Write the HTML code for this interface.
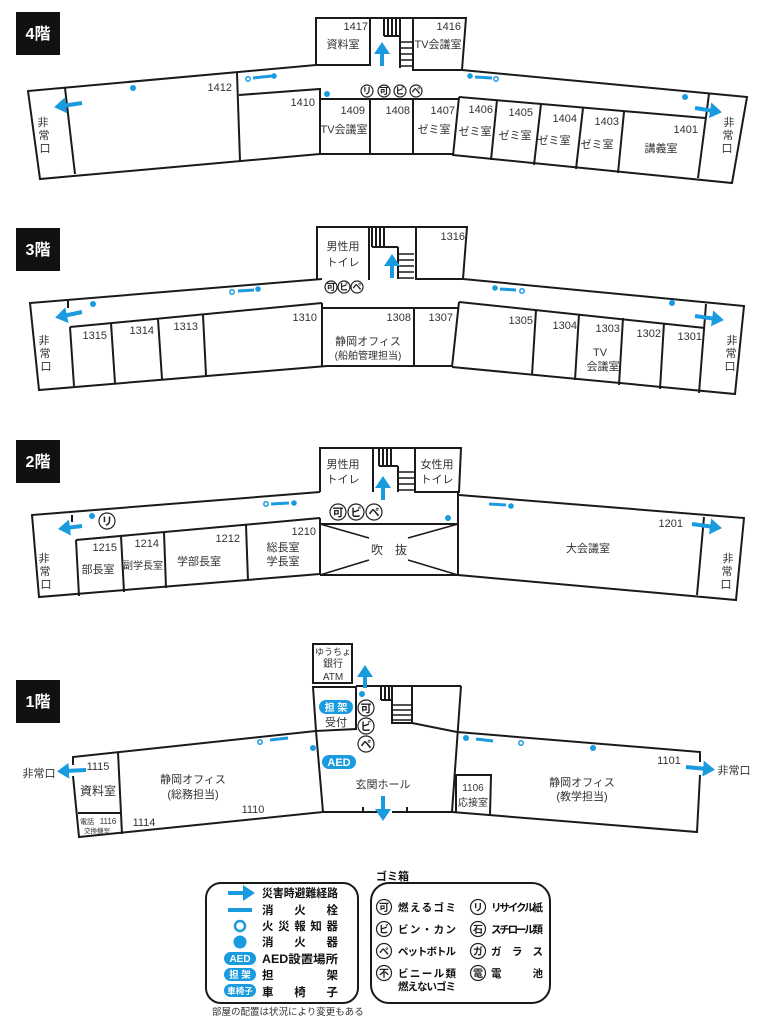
<!DOCTYPE html>
<html><head><meta charset="utf-8"><style>
html,body{margin:0;padding:0;background:#fff}
svg{display:block}
text{font-family:"Liberation Sans","Noto Sans CJK JP",sans-serif;fill:#333}
.w{fill:none;stroke:#1a1a1a;stroke-width:2}
.t{font-size:11px}
.n{font-size:11px}
.b{stroke:#1a9be0;stroke-width:4;fill:none}
.h{stroke:#1a9be0;stroke-width:3;fill:none}
.e{fill:#1a9be0}
.a{fill:#fff;stroke:#1a9be0;stroke-width:1.5}
.c{fill:#fff;stroke:#222;stroke-width:1.2}
.ct{font-size:9px;fill:#222;text-anchor:middle;font-weight:bold}
.lg{font-size:11.5px;font-weight:bold;fill:#111}
</style></head><body>
<svg width="761" height="1024" viewBox="0 0 761 1024" xmlns="http://www.w3.org/2000/svg">
<defs>
<marker id="ah" markerWidth="4" markerHeight="4" refX="1" refY="2" orient="auto" markerUnits="strokeWidth">
<path d="M0,0 L3,2 L0,4 Z" fill="#1a9be0"/></marker>
</defs>

<rect x="16" y="12" width="44" height="43" fill="#111"/><text x="38" y="39" text-anchor="middle" style="fill:#fff;font-size:16px;font-weight:bold">4階</text>
<rect x="16" y="228" width="44" height="43" fill="#111"/><text x="38" y="255" text-anchor="middle" style="fill:#fff;font-size:16px;font-weight:bold">3階</text>
<rect x="16" y="440" width="44" height="43" fill="#111"/><text x="38" y="467" text-anchor="middle" style="fill:#fff;font-size:16px;font-weight:bold">2階</text>
<rect x="16" y="680" width="44" height="43" fill="#111"/><text x="38" y="707" text-anchor="middle" style="fill:#fff;font-size:16px;font-weight:bold">1階</text>

<!-- ===== FLOOR 4 ===== -->
<g class="w">
<path d="M316,65 V18 H370 V65 Z"/>
<path d="M370,18 H413"/>
<path d="M384,18 V36 M388,18 V36 M392,18 V36 M396,18 V36 M384,36 H400 M400,18 V68"/>
<path d="M400,42 H413 M400,48 H413 M400,54 H413 M400,60 H413 M400,66 H413" stroke-width="1.5"/>
<path d="M413,70 V18 H466 L462,70 Z"/>
<path d="M316,65 L28,91 L40,179 L320,154"/>
<path d="M65,88 L75,174"/>
<path d="M237,73 L240,161"/>
<path d="M239,95 L320,89 V154"/>
<path d="M320,99 H458 M370,99 V154 M413,99 V154 M320,154 H453"/>
<path d="M462,70 L747,97 L732,183 L453,155"/>
<path d="M459,97 L705,118 M459,97 L453,156 M497,100 L491,160 M541,104 L534,165 M583,108 L576,169 M624,112 L618,173 M709,94 L698,178"/>
</g>
<g class="n">
<text x="368" y="30" text-anchor="end">1417</text><text x="343" y="48" text-anchor="middle">資料室</text>
<text x="461" y="30" text-anchor="end">1416</text><text x="438" y="48" text-anchor="middle">TV会議室</text>
<text x="232" y="91" text-anchor="end">1412</text>
<text x="315" y="106" text-anchor="end">1410</text>
<text x="365" y="114" text-anchor="end">1409</text><text x="344" y="133" text-anchor="middle">TV会議室</text>
<text x="410" y="114" text-anchor="end">1408</text>
<text x="455" y="114" text-anchor="end">1407</text><text x="434" y="133" text-anchor="middle">ゼミ室</text>
<text x="493" y="113" text-anchor="end">1406</text><text x="475" y="135" text-anchor="middle">ゼミ室</text>
<text x="533" y="116" text-anchor="end">1405</text><text x="515" y="139" text-anchor="middle">ゼミ室</text>
<text x="577" y="122" text-anchor="end">1404</text><text x="554" y="144" text-anchor="middle">ゼミ室</text>
<text x="619" y="125" text-anchor="end">1403</text><text x="597" y="148" text-anchor="middle">ゼミ室</text>
<text x="698" y="133" text-anchor="end">1401</text><text x="661" y="152" text-anchor="middle">講義室</text>
<text x="43" y="126" text-anchor="middle">非</text><text x="44" y="139" text-anchor="middle">常</text><text x="45" y="152" text-anchor="middle">口</text>
<text x="729" y="126" text-anchor="middle">非</text><text x="728" y="139" text-anchor="middle">常</text><text x="727" y="152" text-anchor="middle">口</text>
</g>
<path class="b" d="M82,103 L62,106" marker-end="url(#ah)"/>
<path class="b" d="M695,108 L714,111" marker-end="url(#ah)"/>
<path class="b" d="M382,66 V50" marker-end="url(#ah)"/>
<circle class="e" cx="133" cy="88" r="3"/>
<circle class="a" cx="248" cy="79" r="2.2"/><path class="h" d="M253,78 L272,76"/><circle class="e" cx="274" cy="76" r="2.8"/>
<circle class="e" cx="327" cy="94" r="3"/>
<circle class="e" cx="470" cy="76" r="2.8"/><path class="h" d="M475,77 L492,78"/><circle class="a" cx="496" cy="79" r="2.2"/>
<circle class="e" cx="685" cy="97" r="3"/>
<circle class="c" cx="367" cy="91" r="6"/><text class="ct" x="367" y="94">リ</text>
<circle class="c" cx="384" cy="91" r="6"/><text class="ct" x="384" y="94">可</text>
<circle class="c" cx="400" cy="91" r="6"/><text class="ct" x="400" y="94">ビ</text>
<circle class="c" cx="416" cy="91" r="6"/><text class="ct" x="416" y="94">ペ</text>

<!-- ===== FLOOR 3 ===== -->
<g class="w">
<path d="M317,280 V227 H369 V280"/>
<path d="M369,227 H416 M372,227 V247 M376,227 V247 M380,227 V247 M384,227 V247 M372,247 H398 M398,247 V279"/>
<path d="M398,254 H414 M398,260 H414 M398,266 H414 M398,272 H414 M398,278 H414" stroke-width="1.5"/>
<path d="M416,279 V227 H467 L463,279 Z"/>
<path d="M322,279 L30,303 L39,390 L327,366"/>
<path d="M68,301 V308 M70,327 L74,386"/>
<path d="M70,327 L322,303 M111,323 L115,383 M158,319 L162,379 M203,315 L206,375"/>
<path d="M322,303 V366 M322,308 H459 M414,308 V366 M327,366 H452"/>
<path d="M463,279 L744,306 L735,394 L452,367"/>
<path d="M459,302 L705,328 M459,302 L452,367 M536,310 L532,375 M579,314 L575,380 M623,318 L619,385 M664,323 L660,389 M706,304 L699,393"/>
</g>
<g class="n">
<text x="343" y="250" text-anchor="middle">男性用</text><text x="343" y="266" text-anchor="middle">トイレ</text>
<text x="465" y="240" text-anchor="end">1316</text>
<text x="107" y="339" text-anchor="end">1315</text>
<text x="154" y="334" text-anchor="end">1314</text>
<text x="198" y="330" text-anchor="end">1313</text>
<text x="317" y="321" text-anchor="end">1310</text>
<text x="411" y="321" text-anchor="end">1308</text>
<text x="453" y="321" text-anchor="end">1307</text>
<text x="368" y="345" text-anchor="middle">静岡オフィス</text>
<text x="368" y="359" text-anchor="middle" style="font-size:10px">(船舶管理担当)</text>
<text x="533" y="324" text-anchor="end">1305</text>
<text x="577" y="329" text-anchor="end">1304</text>
<text x="620" y="332" text-anchor="end">1303</text>
<text x="661" y="337" text-anchor="end">1302</text>
<text x="702" y="340" text-anchor="end">1301</text>
<text x="600" y="356" text-anchor="middle">TV</text><text x="603" y="370" text-anchor="middle">会議室</text>
<text x="44" y="344" text-anchor="middle">非</text><text x="45" y="357" text-anchor="middle">常</text><text x="46" y="370" text-anchor="middle">口</text>
<text x="732" y="344" text-anchor="middle">非</text><text x="731" y="357" text-anchor="middle">常</text><text x="730" y="370" text-anchor="middle">口</text>
</g>
<path class="b" d="M82,312 L63,316" marker-end="url(#ah)"/>
<path class="b" d="M695,316 L716,319" marker-end="url(#ah)"/>
<path class="b" d="M392,278 V262" marker-end="url(#ah)"/>
<circle class="e" cx="93" cy="304" r="3"/>
<circle class="a" cx="232" cy="292" r="2.2"/><path class="h" d="M238,291 L254,290"/><circle class="e" cx="258" cy="289" r="2.8"/>
<circle class="e" cx="495" cy="288" r="2.8"/><path class="h" d="M500,289 L516,290"/><circle class="a" cx="522" cy="291" r="2.2"/>
<circle class="e" cx="672" cy="303" r="3"/>
<circle class="c" cx="331" cy="287" r="6"/><text class="ct" x="331" y="290">可</text>
<circle class="c" cx="344" cy="287" r="6"/><text class="ct" x="344" y="290">ビ</text>
<circle class="c" cx="357" cy="287" r="6"/><text class="ct" x="357" y="290">ペ</text>

<!-- ===== FLOOR 2 ===== -->
<g class="w">
<path d="M320,492 V448 H373 V492"/>
<path d="M373,448 H415 M379,448 V466 M383,448 V466 M387,448 V466 M391,448 V466 M379,466 H398 M398,466 V492"/>
<path d="M398,472 H414 M398,478 H414 M398,484 H414 M398,490 H414" stroke-width="1.5"/>
<path d="M415,492 V448 H461 L459,492 Z"/>
<path d="M320,492 L32,515 L39,597 L320,574"/>
<path d="M72,515 V522 M76,540 L79,596"/>
<path d="M76,540 L320,518 M121,536 L124,592 M164,532 L166,588 M246,525 L248,581"/>
<path d="M320,518 V575 M320,524 H458 M458,492 V575 M320,575 H458"/>
<path d="M320,524 L369,538 M458,524 L408,538 M320,575 L369,560 M458,575 L408,560" stroke-width="1.5"/>
<path d="M459,495 L744,518 L736,600 L458,575"/>
<path d="M704,517 L697,595"/>
</g>
<g class="n">
<text x="343" y="468" text-anchor="middle">男性用</text><text x="343" y="483" text-anchor="middle">トイレ</text>
<text x="437" y="468" text-anchor="middle">女性用</text><text x="437" y="483" text-anchor="middle">トイレ</text>
<text x="117" y="551" text-anchor="end">1215</text>
<text x="159" y="547" text-anchor="end">1214</text>
<text x="240" y="542" text-anchor="end">1212</text>
<text x="316" y="535" text-anchor="end">1210</text>
<text x="98" y="573" text-anchor="middle">部長室</text>
<text x="143" y="569" text-anchor="middle" style="font-size:10px">副学長室</text>
<text x="199" y="565" text-anchor="middle">学部長室</text>
<text x="283" y="551" text-anchor="middle">総長室</text><text x="283" y="565" text-anchor="middle">学長室</text>
<text x="389" y="554" text-anchor="middle" style="font-size:12px">吹　抜</text>
<text x="683" y="527" text-anchor="end">1201</text>
<text x="588" y="552" text-anchor="middle">大会議室</text>
<text x="44" y="562" text-anchor="middle">非</text><text x="45" y="575" text-anchor="middle">常</text><text x="46" y="588" text-anchor="middle">口</text>
<text x="728" y="562" text-anchor="middle">非</text><text x="727" y="575" text-anchor="middle">常</text><text x="726" y="588" text-anchor="middle">口</text>
</g>
<path class="b" d="M82,526 L66,528" marker-end="url(#ah)"/>
<path class="b" d="M692,524 L714,527" marker-end="url(#ah)"/>
<path class="b" d="M383,500 V484" marker-end="url(#ah)"/>
<circle class="e" cx="92" cy="516" r="3"/>
<circle class="a" cx="266" cy="504" r="2.2"/><path class="h" d="M271,504 L289,503"/><circle class="e" cx="294" cy="503" r="2.8"/>
<circle class="e" cx="448" cy="518" r="3"/>
<path class="h" d="M489,504 L506,505"/><circle class="e" cx="511" cy="506" r="2.8"/>
<circle class="c" cx="107" cy="521" r="8"/><text class="ct" x="107" y="525" style="font-size:11px">リ</text>
<circle class="c" cx="338" cy="512" r="8"/><text class="ct" x="338" y="516" style="font-size:11px">可</text>
<circle class="c" cx="356" cy="512" r="8"/><text class="ct" x="356" y="516" style="font-size:11px">ビ</text>
<circle class="c" cx="374" cy="512" r="8"/><text class="ct" x="374" y="516" style="font-size:11px">ペ</text>

<!-- ===== FLOOR 1 ===== -->
<g class="w">
<rect x="313" y="644" width="39" height="39"/>
<path d="M316,731 L313,687 H356 V729 Z"/>
<path d="M356,686 H461 M381,686 V700 M385,686 V700 M389,686 V700 M381,700 H392 M392,686 V723 H412 V686"/>
<path d="M392,705 H412 M392,710 H412 M392,715 H412 M392,720 H412" stroke-width="1.5"/>
<path d="M412,723 L457,732"/>
<path d="M461,686 L452,812"/>
<path d="M316,731 L73,757 V765 M73,776 L79,837 L323,812 L316,731"/>
<path d="M118,752 L122,834 M78,813 H121"/>
<path d="M323,812 H378 M392,812 H452 M363,812 V807 M407,812 V807"/>
<path d="M457,732 L700,752 V762 M700,775 L697,832 L452,812"/>
<path d="M456,812 V775 H491 L490,815"/>
</g>
<g class="n">
<text x="333" y="655" text-anchor="middle" style="font-size:9px">ゆうちょ</text>
<text x="333" y="667" text-anchor="middle" style="font-size:10px">銀行</text>
<text x="333" y="680" text-anchor="middle" style="font-size:10px">ATM</text>
<text x="336" y="726" text-anchor="middle">受付</text>
<text x="98" y="770" text-anchor="middle">1115</text>
<text x="98" y="795" text-anchor="middle" style="font-size:12px">資料室</text>
<text x="87" y="824" text-anchor="middle" style="font-size:7px">電話</text>
<text x="108" y="824" text-anchor="middle" style="font-size:8px">1116</text>
<text x="97" y="833" text-anchor="middle" style="font-size:6.5px">交換機室</text>
<text x="144" y="826" text-anchor="middle">1114</text>
<text x="253" y="813" text-anchor="middle">1110</text>
<text x="193" y="783" text-anchor="middle">静岡オフィス</text>
<text x="193" y="798" text-anchor="middle">(総務担当)</text>
<text x="383" y="788" text-anchor="middle">玄関ホール</text>
<text x="473" y="791" text-anchor="middle" style="font-size:10px">1106</text>
<text x="473" y="806" text-anchor="middle" style="font-size:10px">応接室</text>
<text x="669" y="764" text-anchor="middle">1101</text>
<text x="582" y="786" text-anchor="middle">静岡オフィス</text>
<text x="582" y="800" text-anchor="middle">(教学担当)</text>
<text x="39" y="777" text-anchor="middle">非常口</text>
<text x="734" y="774" text-anchor="middle">非常口</text>
</g>
<path class="b" d="M86,770 L65,771" marker-end="url(#ah)"/>
<path class="b" d="M686,767 L707,769" marker-end="url(#ah)"/>
<path class="b" d="M365,688 V673" marker-end="url(#ah)"/>
<path class="b" d="M383,796 V813" marker-end="url(#ah)"/>
<circle class="e" cx="362" cy="694" r="3"/>
<circle class="e" cx="313" cy="748" r="3"/>
<circle class="a" cx="260" cy="742" r="2.2"/><path class="h" d="M270,740 L288,738"/>
<circle class="e" cx="466" cy="738" r="3"/><path class="h" d="M476,739 L493,741"/><circle class="a" cx="521" cy="743" r="2.2"/>
<circle class="e" cx="593" cy="748" r="3"/>
<rect x="319" y="700" width="34" height="14" rx="7" fill="#1a9be0"/><text x="336" y="711" text-anchor="middle" style="fill:#fff;font-size:10px;font-weight:bold">担 架</text>
<rect x="322" y="755" width="34" height="14" rx="7" fill="#1a9be0"/><text x="339" y="766" text-anchor="middle" style="fill:#fff;font-size:11px;font-weight:bold">AED</text>
<circle class="c" cx="366" cy="708" r="8"/><text class="ct" x="366" y="712" style="font-size:11px">可</text>
<circle class="c" cx="366" cy="726" r="8"/><text class="ct" x="366" y="730" style="font-size:11px">ビ</text>
<circle class="c" cx="366" cy="744" r="8"/><text class="ct" x="366" y="748" style="font-size:11px">ペ</text>

<!-- ===== LEGEND ===== -->
<rect x="206" y="883" width="152" height="120" rx="15" fill="none" stroke="#1a1a1a" stroke-width="2"/>
<path class="b" d="M228,893 L247,893" marker-end="url(#ah)"/>
<path d="M228,910 L252,910" stroke="#1a9be0" stroke-width="4"/>
<circle cx="240" cy="926" r="5" fill="#fff" stroke="#1a9be0" stroke-width="2.5"/>
<circle cx="240" cy="942" r="6.5" fill="#1a9be0"/>
<rect x="224" y="952" width="32" height="13" rx="6.5" fill="#1a9be0"/><text x="240" y="962" text-anchor="middle" style="fill:#fff;font-size:10px;font-weight:bold">AED</text>
<rect x="224" y="968" width="32" height="13" rx="6.5" fill="#1a9be0"/><text x="240" y="978" text-anchor="middle" style="fill:#fff;font-size:9.5px;font-weight:bold">担 架</text>
<rect x="224" y="984" width="32" height="13" rx="6.5" fill="#1a9be0"/><text x="240" y="994" text-anchor="middle" style="fill:#fff;font-size:8.5px;font-weight:bold">車椅子</text>
<text class="lg" x="262" y="897" textLength="76" lengthAdjust="spacingAndGlyphs">災害時避難経路</text>
<text class="lg" x="262" y="914" textLength="76" lengthAdjust="spacing">消火栓</text>
<text class="lg" x="262" y="930" textLength="76" lengthAdjust="spacing">火災報知器</text>
<text class="lg" x="262" y="946" textLength="76" lengthAdjust="spacing">消火器</text>
<text class="lg" x="262" y="963" textLength="76" lengthAdjust="spacingAndGlyphs">AED設置場所</text>
<text class="lg" x="262" y="979" textLength="76" lengthAdjust="spacing">担架</text>
<text class="lg" x="262" y="996" textLength="76" lengthAdjust="spacing">車椅子</text>
<text x="212" y="1015" style="font-size:9.5px">部屋の配置は状況により変更もある</text>

<text x="376" y="880" style="font-size:11px;font-weight:bold;fill:#111">ゴミ箱</text>
<rect x="371" y="883" width="179" height="120" rx="18" fill="none" stroke="#1a1a1a" stroke-width="2"/>
<g style="font-size:10.5px;font-weight:bold">
<circle class="c" cx="384" cy="907" r="7.5"/><text class="ct" x="384" y="911" style="font-size:10px">可</text>
<circle class="c" cx="384" cy="929" r="7.5"/><text class="ct" x="384" y="933" style="font-size:10px">ビ</text>
<circle class="c" cx="384" cy="951" r="7.5"/><text class="ct" x="384" y="955" style="font-size:10px">ペ</text>
<circle class="c" cx="384" cy="973" r="7.5"/><text class="ct" x="384" y="977" style="font-size:10px">不</text>
<circle class="c" cx="478" cy="907" r="7.5"/><text class="ct" x="478" y="911" style="font-size:10px">リ</text>
<circle class="c" cx="478" cy="929" r="7.5"/><text class="ct" x="478" y="933" style="font-size:10px">石</text>
<circle class="c" cx="478" cy="951" r="7.5"/><text class="ct" x="478" y="955" style="font-size:10px">ガ</text>
<circle class="c" cx="478" cy="973" r="7.5"/><text class="ct" x="478" y="977" style="font-size:10px">電</text>
<text class="lg" x="398" y="911" textLength="58" lengthAdjust="spacing" style="font-size:10.5px">燃えるゴミ</text>
<text class="lg" x="398" y="933" textLength="58" lengthAdjust="spacing" style="font-size:10.5px">ビン・カン</text>
<text class="lg" x="398" y="955" textLength="58" lengthAdjust="spacing" style="font-size:10.5px">ペットボトル</text>
<text class="lg" x="398" y="977" textLength="58" lengthAdjust="spacing" style="font-size:10.5px">ビニール類</text>
<text class="lg" x="398" y="990" textLength="58" lengthAdjust="spacing" style="font-size:10.5px">燃えないゴミ</text>
<text class="lg" x="491" y="911" textLength="52" lengthAdjust="spacing" style="font-size:10.5px">リサイクル紙</text>
<text class="lg" x="491" y="933" textLength="52" lengthAdjust="spacing" style="font-size:10.5px">スチロール類</text>
<text class="lg" x="491" y="955" textLength="52" lengthAdjust="spacing" style="font-size:10.5px">ガラス</text>
<text class="lg" x="491" y="977" textLength="52" lengthAdjust="spacing" style="font-size:10.5px">電池</text>
</g>
</svg>
</body></html>
